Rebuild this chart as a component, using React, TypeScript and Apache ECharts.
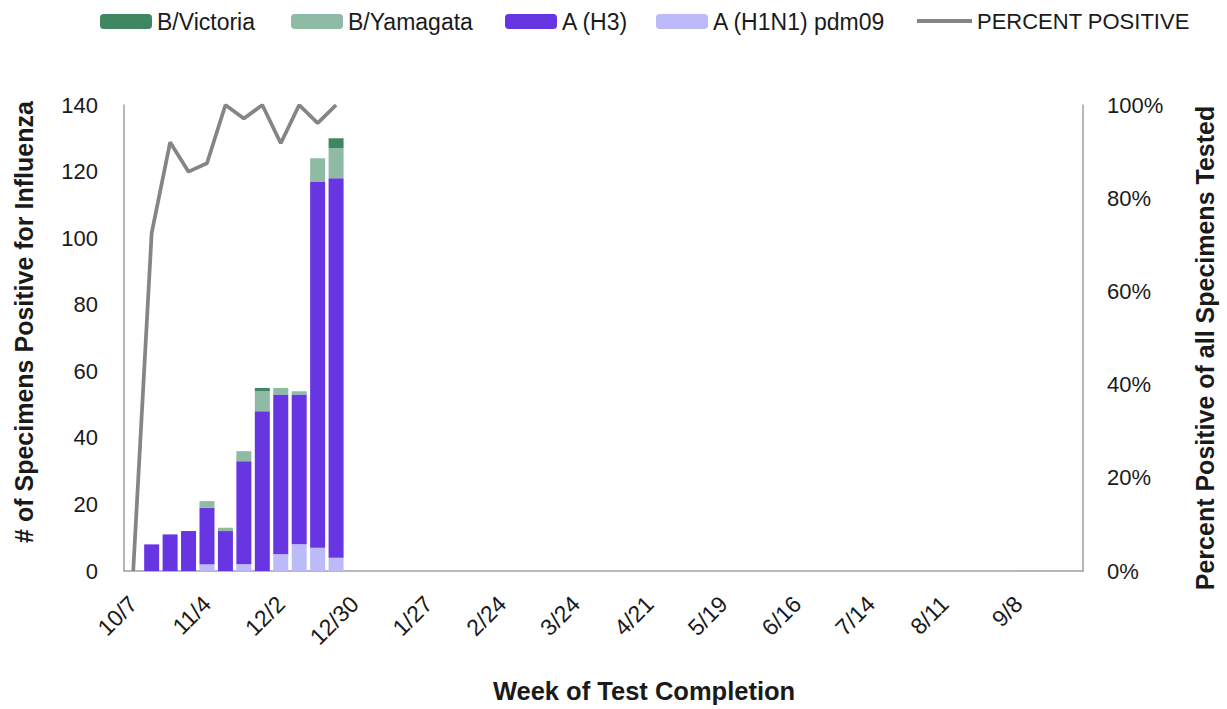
import React, { useEffect, useRef } from "react";
import * as echarts from "echarts";

const weeks = [
  "10/7", "10/14", "10/21", "10/28", "11/4", "11/11", "11/18", "11/25", "12/2", "12/9", "12/16", "12/23", "12/30",
  "1/6", "1/13", "1/20", "1/27", "2/3", "2/10", "2/17", "2/24", "3/3", "3/10", "3/17", "3/24", "3/31",
  "4/7", "4/14", "4/21", "4/28", "5/5", "5/12", "5/19", "5/26", "6/2", "6/9", "6/16", "6/23", "6/30",
  "7/7", "7/14", "7/21", "7/28", "8/4", "8/11", "8/18", "8/25", "9/1", "9/8", "9/15", "9/22", "9/29",
];

const h1n1 = [0, 0, 0, 0, 2, 0, 2, 0, 5, 8, 7, 4];
const h3 = [0, 8, 11, 12, 17, 12, 31, 48, 48, 45, 110, 114];
const yamagata = [0, 0, 0, 0, 2, 1, 3, 6, 2, 1, 7, 9];
const victoria = [0, 0, 0, 0, 0, 0, 0, 1, 0, 0, 0, 3];
const percentPositive = [0, 72.5, 92, 85.7, 87.5, 100, 97.1, 100, 91.8, 100, 96.1, 100];

const FONT = "'Liberation Sans', Arial, sans-serif";
const TXT = "#1a1a1a";
const AXIS = "#a0a0a0";
const LINE = "#858585";

function legendItem(name: string, left: number, fontSize: number, extra: any = {}) {
  return {
    left,
    top: 10,
    itemWidth: 52,
    itemHeight: 15,
    padding: 0,
    textStyle: { fontSize, color: TXT, fontFamily: FONT },
    data: [{ name, ...extra }],
  };
}

export default function App() {
  const ref = useRef<HTMLDivElement>(null);
  useEffect(() => {
    if (!ref.current) return;
    const chart = echarts.init(ref.current, undefined, { renderer: "svg" });
    const barBase = {
      type: "bar",
      stack: "flu",
      barWidth: 15,
      yAxisIndex: 0,
    };
    chart.setOption({
      animation: false,
      textStyle: { fontFamily: FONT },
      legend: [
        legendItem("B/Victoria", 100, 23),
        legendItem("B/Yamagata", 291, 23),
        legendItem("A (H3)", 505, 23),
        legendItem("A (H1N1) pdm09", 656, 23),
        {
          ...legendItem("PERCENT POSITIVE", 917, 22, {
            icon: "path://M0,0L55,0L55,4L0,4Z",
            itemStyle: { color: LINE },
          }),
          itemWidth: 55,
        },
      ],
      grid: { left: 124, right: 144, top: 105, bottom: 138, containLabel: false },
      xAxis: {
        type: "category",
        data: weeks,
        boundaryGap: true,
        axisLine: { show: true, lineStyle: { color: AXIS, width: 1.5 } },
        axisTick: { show: false },
        axisLabel: {
          interval: 3,
          rotate: 45,
          margin: 29,
          fontSize: 23,
          color: TXT,
          fontFamily: FONT,
        },
        splitLine: { show: false },
      },
      yAxis: [
        {
          type: "value",
          min: 0,
          max: 140,
          interval: 20,
          axisLine: { show: true, lineStyle: { color: AXIS, width: 1.5 } },
          axisTick: { show: false },
          splitLine: { show: false },
          axisLabel: { fontSize: 22, color: TXT, margin: 26, fontFamily: FONT },
        },
        {
          type: "value",
          min: 0,
          max: 100,
          interval: 20,
          position: "right",
          axisLine: { show: true, lineStyle: { color: AXIS, width: 1.5 } },
          axisTick: { show: false },
          splitLine: { show: false },
          axisLabel: { fontSize: 22, color: TXT, margin: 24, formatter: "{value}%", fontFamily: FONT },
        },
      ],
      series: [
        { ...barBase, name: "A (H1N1) pdm09", data: h1n1, itemStyle: { color: "#bdbafa" } },
        { ...barBase, name: "A (H3)", data: h3, itemStyle: { color: "#6736e2" } },
        { ...barBase, name: "B/Yamagata", data: yamagata, itemStyle: { color: "#8fbba5" } },
        { ...barBase, name: "B/Victoria", data: victoria, itemStyle: { color: "#3f8763" } },
        {
          type: "line",
          name: "PERCENT POSITIVE",
          yAxisIndex: 1,
          data: percentPositive,
          symbol: "none",
          showSymbol: false,
          lineStyle: { color: LINE, width: 3.75 },
          itemStyle: { color: LINE },
          z: 5,
        },
      ],
      graphic: [
        {
          type: "text",
          x: 24,
          y: 322,
          rotation: Math.PI / 2,
          style: {
            text: "# of Specimens Positive for Influenza",
            font: `bold 25px ${FONT}`,
            fill: TXT,
            textAlign: "center",
            textVerticalAlign: "middle",
          },
        },
        {
          type: "text",
          x: 1205,
          y: 348,
          rotation: Math.PI / 2,
          style: {
            text: "Percent Positive of all Specimens Tested",
            font: `bold 25px ${FONT}`,
            fill: TXT,
            textAlign: "center",
            textVerticalAlign: "middle",
          },
        },
        {
          type: "text",
          x: 644,
          y: 691,
          style: {
            text: "Week of Test Completion",
            font: `bold 25.5px ${FONT}`,
            fill: TXT,
            textAlign: "center",
            textVerticalAlign: "middle",
          },
        },
      ],
    });
    return () => chart.dispose();
  }, []);
  return (
    <div
      ref={ref}
      style={{ position: "fixed", left: 0, top: 0, width: 1227, height: 709, background: "#fff" }}
    />
  );
}
